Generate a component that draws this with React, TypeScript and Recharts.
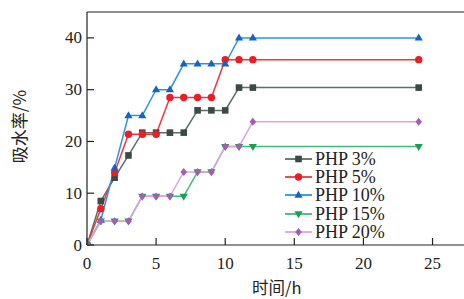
import React from 'react';
import { LineChart, Line, XAxis, YAxis, ReferenceLine } from 'recharts';

const hours = [0, 1, 2, 3, 4, 5, 6, 7, 8, 9, 10, 11, 12, 24];
const php3 = [0, 8.5, 13, 17.3, 21.7, 21.7, 21.7, 21.7, 26, 26, 26, 30.4, 30.4, 30.4];
const php5 = [0, 7, 14, 21.4, 21.4, 21.4, 28.5, 28.5, 28.5, 28.5, 35.8, 35.8, 35.8, 35.8];
const php10 = [0, 4.8, 14.9, 25, 25, 30, 30, 35, 35, 35, 35, 40, 40, 40];
const php15 = [0, 4.6, 4.6, 4.6, 9.4, 9.4, 9.4, 9.4, 14.1, 14.1, 19, 19, 19, 19];
const php20 = [0, 4.6, 4.6, 4.6, 9.4, 9.4, 9.4, 14.1, 14.1, 14.1, 19, 19, 23.8, 23.8];
const xTicks = [0, 5, 10, 15, 20, 25];
const yTicks = [0, 10, 20, 30, 40];

const data = hours.map((h, i) => ({
  h,
  p3: php3[i],
  p5: php5[i],
  p10: php10[i],
  p15: php15[i],
  p20: php20[i],
}));

const FONT = '"Liberation Serif", "Times New Roman", serif';
const CJK = '"Noto Sans CJK SC", sans-serif';

type Shape = 'square' | 'circle' | 'triangle' | 'down' | 'diamond';

const series: { key: string; name: string; line: string; marker: string; shape: Shape }[] = [
  { key: 'p3', name: 'PHP 3%', line: '#5b6f67', marker: '#3c4a44', shape: 'square' },
  { key: 'p5', name: 'PHP 5%', line: '#f2353d', marker: '#ee1c25', shape: 'circle' },
  { key: 'p10', name: 'PHP 10%', line: '#2a95e6', marker: '#1565c0', shape: 'triangle' },
  { key: 'p15', name: 'PHP 15%', line: '#3dbb7a', marker: '#1c9e4e', shape: 'down' },
  { key: 'p20', name: 'PHP 20%', line: '#dfa3df', marker: '#a35db3', shape: 'diamond' },
];

function marker(shape: Shape, cx: number, cy: number, fill: string, key?: string) {
  const s = 3.3;
  switch (shape) {
    case 'square':
      return <rect key={key} x={cx - s} y={cy - s} width={2 * s} height={2 * s} fill={fill} />;
    case 'circle':
      return <circle key={key} cx={cx} cy={cy} r={s + 0.4} fill={fill} />;
    case 'triangle':
      return <polygon key={key} points={`${cx},${cy - s - 1} ${cx - s - 0.8},${cy + s - 0.6} ${cx + s + 0.8},${cy + s - 0.6}`} fill={fill} />;
    case 'down':
      return <polygon key={key} points={`${cx},${cy + s + 1} ${cx - s - 0.8},${cy - s + 0.6} ${cx + s + 0.8},${cy - s + 0.6}`} fill={fill} />;
    case 'diamond':
    default:
      return <polygon key={key} points={`${cx},${cy - s - 0.6} ${cx + s},${cy} ${cx},${cy + s + 0.6} ${cx - s},${cy}`} fill={fill} />;
  }
}

const makeDot = (shape: Shape, fill: string) => (props: any) => {
  const { cx, cy, index } = props;
  if (cx == null || cy == null) return <g key={index} />;
  return marker(shape, cx, cy, fill, `d${index}`);
};

const XTick = (props: any) => {
  const { x, y, payload } = props;
  return (
    <g>
      <line x1={x} y1={y} x2={x} y2={y - 7} stroke="#222" strokeWidth={1.2} />
      <text x={x} y={y + 18} textAnchor="middle" dominantBaseline="central" fontFamily={FONT} fontSize={17} fill="#222">
        {payload.value}
      </text>
    </g>
  );
};

const YTick = (props: any) => {
  const { x, y, payload } = props;
  return (
    <g>
      <line x1={x} y1={y} x2={x + 7} y2={y} stroke="#222" strokeWidth={1.2} />
      <text x={x - 5} y={y} textAnchor="end" dominantBaseline="central" fontFamily={FONT} fontSize={17} fill="#222">
        {payload.value}
      </text>
    </g>
  );
};

const LegendBox = () => (
  <div style={{ position: 'absolute', left: 283, top: 150, width: 120 }}>
    {series.map((s) => (
      <div key={s.key} style={{ display: 'flex', alignItems: 'center', height: 18.2 }}>
        <svg width={30} height={18} style={{ display: 'block' }}>
          <line x1={2} y1={9} x2={29} y2={9} stroke={s.line} strokeWidth={1.8} />
          {marker(s.shape, 15.5, 9, s.marker)}
        </svg>
        <span style={{ fontFamily: FONT, fontSize: 18, color: '#222', lineHeight: '18px', marginLeft: 2, whiteSpace: 'nowrap' }}>
          {s.name}
        </span>
      </div>
    ))}
  </div>
);

export default function App() {
  return (
    <div style={{ position: 'fixed', left: 0, top: 0, width: 464, height: 299, overflow: 'hidden', background: '#fff' }}>
      <LineChart width={480} height={299} data={data} margin={{ top: 12, right: 6, left: 0, bottom: 0 }}>
        <XAxis
          dataKey="h"
          type="number"
          domain={[0, 28]}
          ticks={xTicks}
          allowDataOverflow
          height={54}
          tickSize={0}
          tickMargin={0}
          tickLine={false}
          tick={<XTick />}
          stroke="#222"
          strokeWidth={1.2}
          label={{ value: '时间/h', position: 'insideBottomLeft', dx: 160, dy: 0, style: { fontFamily: CJK, fontSize: 16.5, fill: '#222' } }}
        />
        <YAxis
          type="number"
          domain={[0, 45]}
          ticks={yTicks}
          allowDataOverflow
          width={87}
          tickSize={0}
          tickMargin={0}
          tickLine={false}
          tick={<YTick />}
          stroke="#222"
          strokeWidth={1.2}
          label={{ value: '吸水率/%', angle: -90, position: 'insideLeft', dx: 15, dy: -2, style: { fontFamily: CJK, fontSize: 17, fill: '#222', textAnchor: 'middle' } }}
        />
        <ReferenceLine y={45} stroke="#222" strokeWidth={1.2} />
        {series.map((s) => (
          <Line
            key={s.key}
            dataKey={s.key}
            name={s.name}
            type="linear"
            stroke={s.line}
            strokeWidth={1.5}
            dot={makeDot(s.shape, s.marker)}
            activeDot={false}
            isAnimationActive={false}
          />
        ))}
      </LineChart>
      <LegendBox />
    </div>
  );
}
